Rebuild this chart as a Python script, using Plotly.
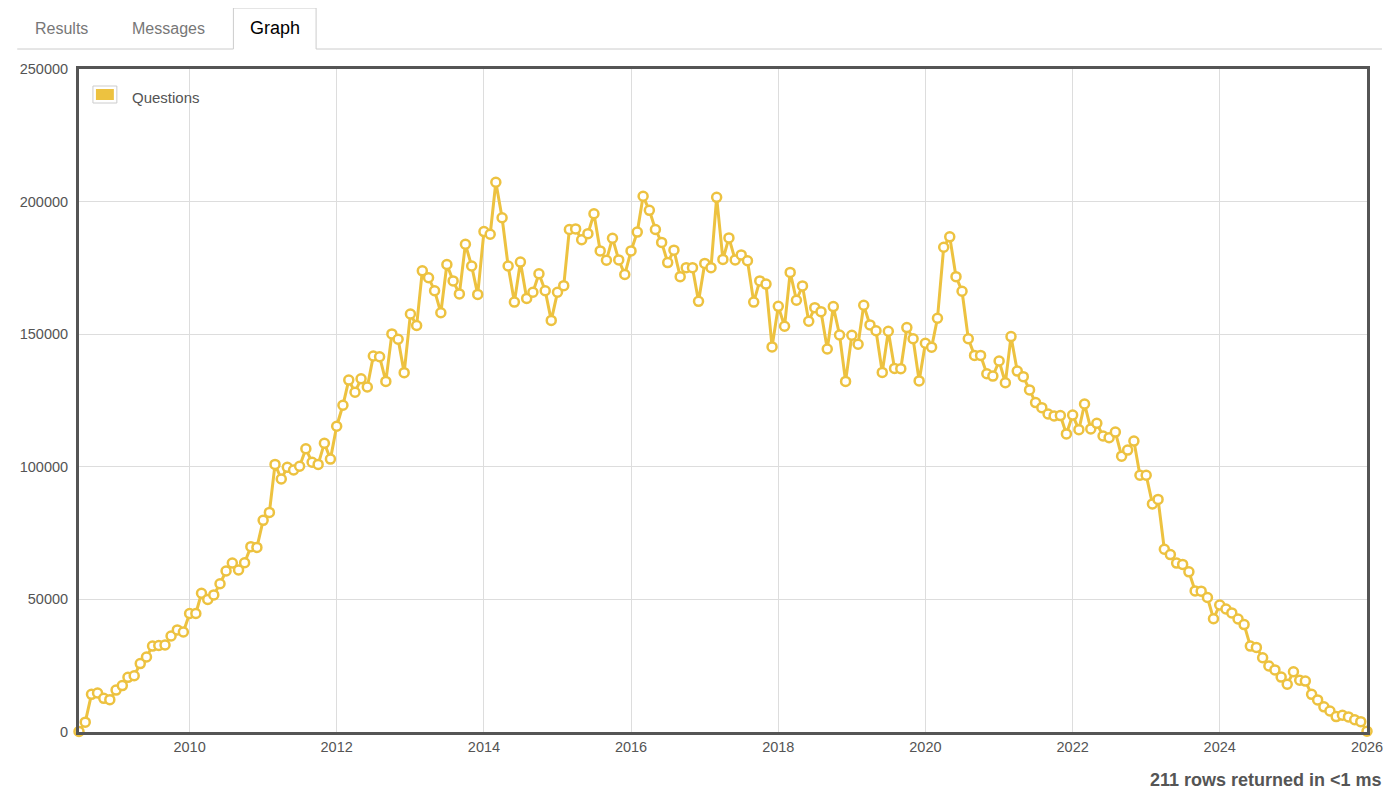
import plotly.graph_objects as go
import pandas as pd

# questions per month (SEDE graph), first value is July 2008
q2008 = [200, 3700, 14200, 14700, 12700, 12200]
q2009 = [15800, 17500, 20600, 21200, 25800, 28300, 32400, 32600, 32800, 36200, 38500, 37700]
q2010 = [44700, 44700, 52300, 50000, 51700, 55900, 60700, 63700, 61100, 63800, 69900, 69600]
q2011 = [79800, 82800, 100900, 95400, 99800, 98800, 100200, 106800, 101700, 100900, 108900, 102900]
q2012 = [115300, 123200, 132700, 128100, 133200, 130100, 141800, 141500, 132200, 150100, 148100, 135500]
q2013 = [157600, 153300, 173900, 171300, 166400, 158100, 176300, 170100, 165200, 183900, 175700, 165000]
q2014 = [188700, 187700, 207300, 193900, 175700, 162100, 177200, 163500, 165800, 172800, 166400, 155200]
q2015 = [165800, 168300, 189500, 189700, 185600, 187900, 195400, 181400, 177900, 186200, 178000, 172500]
q2016 = [181400, 188500, 202000, 196700, 189500, 184600, 177000, 181700, 171700, 175100, 175100, 162400]
q2017 = [176700, 175100, 201600, 178200, 186300, 178000, 179900, 177700, 162100, 170100, 168900, 145200]
q2018 = [160500, 153000, 173300, 162800, 168200, 154900, 160000, 158500, 144400, 160400, 149700, 132200]
q2019 = [149600, 146200, 160900, 153500, 151300, 135600, 151100, 137100, 137000, 152500, 148300, 132400]
q2020 = [146600, 145100, 156000, 182800, 186700, 171700, 166200, 148300, 142000, 142000, 135100, 134200]
q2021 = [139900, 131700, 149100, 136100, 134000, 129000, 124200, 122300, 119900, 119200, 119300, 112400]
q2022 = [119500, 114000, 123700, 114300, 116400, 111600, 111000, 113100, 104000, 106300, 109700, 96800]
q2023 = [96800, 86000, 87700, 68900, 66900, 63700, 63200, 60400, 53200, 53100, 50700, 42700]
q2024 = [47900, 46400, 44900, 42600, 40500, 32400, 31900, 28000, 24900, 23400, 20700, 18000]
q2025 = [22700, 19500, 19200, 14200, 12100, 9500, 7900, 5800, 6300, 5700, 4600, 3900]
q2026 = [300]

questions = (q2008 + q2009 + q2010 + q2011 + q2012 + q2013 + q2014 + q2015 + q2016
             + q2017 + q2018 + q2019 + q2020 + q2021 + q2022 + q2023 + q2024 + q2025 + q2026)
months = pd.date_range("2008-07-01", periods=len(questions), freq="MS")

# the page body has an 8px margin, so the figure is drawn 8px smaller and shifted
OFF = 8
W, H = 1400 - OFF, 802 - OFF
L, T = 74 - OFF, 69 - OFF
R = W - (1367 - OFF)
B = H - (732 - OFF)
pw, ph = W - L - R, H - T - B

# screen pixel -> paper helpers for the page decorations
def px(x):
    return (x - OFF - L) / pw

def py(y):
    return (H - B - (y - OFF)) / ph

gold = "#EDC240"
txt = "#545454"

fig = go.Figure()
fig.add_trace(go.Scatter(
    x=months, y=questions, mode="lines+markers", name="Questions",
    line=dict(color=gold, width=3),
    marker=dict(size=9, color="white", line=dict(color=gold, width=2.5)),
    cliponaxis=False, showlegend=False,
))

shapes = []
# tab strip
shapes.append(dict(type="line", xref="paper", yref="paper",
                   x0=px(12), x1=px(229), y0=py(49), y1=py(49),
                   line=dict(color="#cccccc", width=1)))
shapes.append(dict(type="line", xref="paper", yref="paper",
                   x0=px(312), x1=px(1382), y0=py(49), y1=py(49),
                   line=dict(color="#cccccc", width=1)))
shapes.append(dict(type="path", xref="paper", yref="paper",
                   path="M %f,%f L %f,%f L %f,%f L %f,%f" % (
                       px(229), py(49), px(229), py(8), px(312), py(8), px(312), py(49)),
                   line=dict(color="#cccccc", width=1)))
# legend swatch
shapes.append(dict(type="rect", xref="paper", yref="paper",
                   x0=px(88), x1=px(112), y0=py(103), y1=py(86),
                   fillcolor="white", line=dict(color="#cccccc", width=1)))
shapes.append(dict(type="rect", xref="paper", yref="paper",
                   x0=px(91), x1=px(109), y0=py(100), y1=py(89),
                   fillcolor=gold, line=dict(width=0)))

annotations = [
    dict(text="Results", x=px(56), y=py(29), xanchor="center", font=dict(size=16, color="#777777")),
    dict(text="Messages", x=px(164), y=py(29), xanchor="center", font=dict(size=16, color="#777777")),
    dict(text="Graph", x=px(271), y=py(28), xanchor="center", font=dict(size=18, color="#000000")),
    dict(text="Questions", x=px(125), y=py(98), xanchor="left", font=dict(size=15, color=txt)),
    dict(text="<b>211 rows returned in &lt;1 ms</b>", x=px(1384), y=py(780), xanchor="right",
         font=dict(size=18, color="#555555")),
]
for a in annotations:
    a.update(xref="paper", yref="paper", showarrow=False, yanchor="middle")

fig.update_layout(
    width=W, height=H,
    margin=dict(l=L, r=R, t=T, b=B),
    paper_bgcolor="white", plot_bgcolor="white",
    font=dict(family="Liberation Sans, Arial, sans-serif", size=14.5, color=txt),
    shapes=shapes, annotations=annotations,
)
fig.update_xaxes(
    range=[months[0], months[-1]], tick0="2010-01-01", dtick="M24", tickformat="%Y",
    showgrid=True, gridcolor="#dddddd", gridwidth=1,
    showline=True, mirror=True, linecolor="#555555", linewidth=3,
    ticks="", zeroline=False,
)
fig.update_yaxes(
    range=[0, 250000], dtick=50000, tickformat="d",
    showgrid=True, gridcolor="#dddddd", gridwidth=1,
    showline=True, mirror=True, linecolor="#555555", linewidth=3,
    ticks="", ticklabelstandoff=5, zeroline=False,
)

fig.write_html("out.html")
